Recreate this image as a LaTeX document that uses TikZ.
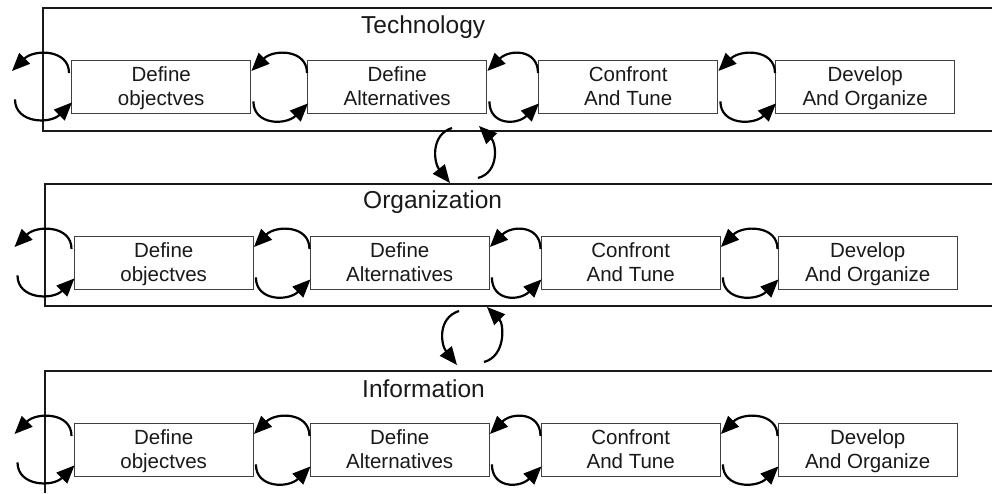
\documentclass[tikz,border=0pt]{standalone}
\usepackage{fontspec}
\setmainfont{Liberation Sans}
\usetikzlibrary{arrows.meta}

% invisible struts that fix the two baselines inside every box
\newcommand\upstrut{\rule{0pt}{17pt}}
\newcommand\downstrut{\rule[-5pt]{0pt}{5pt}}

\begin{document}
\begin{tikzpicture}[x=1pt,y=1pt,
  band/.style={draw=black!90,line width=1.5pt},
  stage/.style={draw=black!75,line width=1.4pt,fill=white,text=black!90,
    minimum width=179pt,minimum height=53pt,inner sep=0pt,align=center,
    font=\fontsize{20.5}{24}\selectfont},
  heading/.style={anchor=base west,inner sep=0pt,text=black!90,
    font=\fontsize{24.5}{29}\selectfont},
  cyc/.style={draw=black,line width=2.2pt,
    -{Triangle[length=18pt,width=15pt]}}
]
\useasboundingbox (0,0) rectangle (992,-493);

% feedback loops between two neighbouring stages
\newcommand\stageloop[2]{%
  \draw[cyc] ([yshift=-13pt]#2.north west) .. controls +(0,24) and +(22,22) .. ([yshift=-11pt]#1.north east);
  \draw[cyc] ([shift={(2pt,13pt)}]#1.south east) .. controls +(0,-24) and +(-22,-22) .. ([shift={(1pt,11pt)}]#2.south west);
}
% loops on the left of the first stage of a band
\newcommand\entryloop[1]{%
  \coordinate (#1u) at ([shift={(-59pt,-11pt)}]#1.north west);
  \coordinate (#1d) at ([shift={(-56pt,15pt)}]#1.south west);
  \draw[cyc] ([shift={(-2pt,-13pt)}]#1.north west) .. controls +(0,24) and +(22,22) .. (#1u);
  \draw[cyc] (#1d) .. controls +(0,-24) and +(-22,-22) .. ([shift={(1pt,12pt)}]#1.south west);
}

% three bands, open on the right
\draw[band] (992,-8) -- (43,-8) -- (43,-131) -- (992,-131);
\draw[band] (992,-184) -- (45,-184) -- (45,-306) -- (992,-306);
\draw[band] (992,-371) -- (45,-371) -- (45,-493);

% band headings
\node[heading] (hT) at (361,-33) {Technology};
\node[heading] (hO) at (363,-208) {Organization};
\node[heading] (hI) at (362,-397) {Information};

% stages of each band
\foreach \b/\x/\y in {t/0/-60, o/2.5/-236, i/2.5/-423}{
  \node[stage,anchor=north west] (\b1) at (71+\x,\y) {\upstrut Define\\objectves\downstrut};
  \node[stage,anchor=north west] (\b2) at (307+\x,\y) {\upstrut Define\\Alternatives\downstrut};
  \node[stage,anchor=north west] (\b3) at (538+\x,\y) {\upstrut Confront\\And Tune\downstrut};
  \node[stage,anchor=north west] (\b4) at (775+\x,\y) {\upstrut Develop\\And Organize\downstrut};
}

\foreach \b in {t,o,i}{
  \entryloop{\b1}
  \stageloop{\b1}{\b2}
  \stageloop{\b2}{\b3}
  \stageloop{\b3}{\b4}
}

% exchange between Technology and Organization
\coordinate (a1) at (452,-128);
\coordinate (a2) at (450,-183);
\coordinate (a3) at (478,-178);
\coordinate (a4) at (479,-126);
\draw[cyc] (a1) .. controls +(-22,-7) and +(-16,20) .. (a2);
\draw[cyc] (a3) .. controls +(22,6) and +(17,-17) .. (a4);

% exchange between Organization and Information
\coordinate (b1) at (459,-311);
\coordinate (b2) at (457,-365);
\coordinate (b3) at (484,-362);
\coordinate (b4) at (487,-307);
\draw[cyc] (b1) .. controls +(-22,-7) and +(-16,20) .. (b2);
\draw[cyc] (b3) .. controls +(22,6) and +(17,-17) .. (b4);
\end{tikzpicture}
\end{document}
